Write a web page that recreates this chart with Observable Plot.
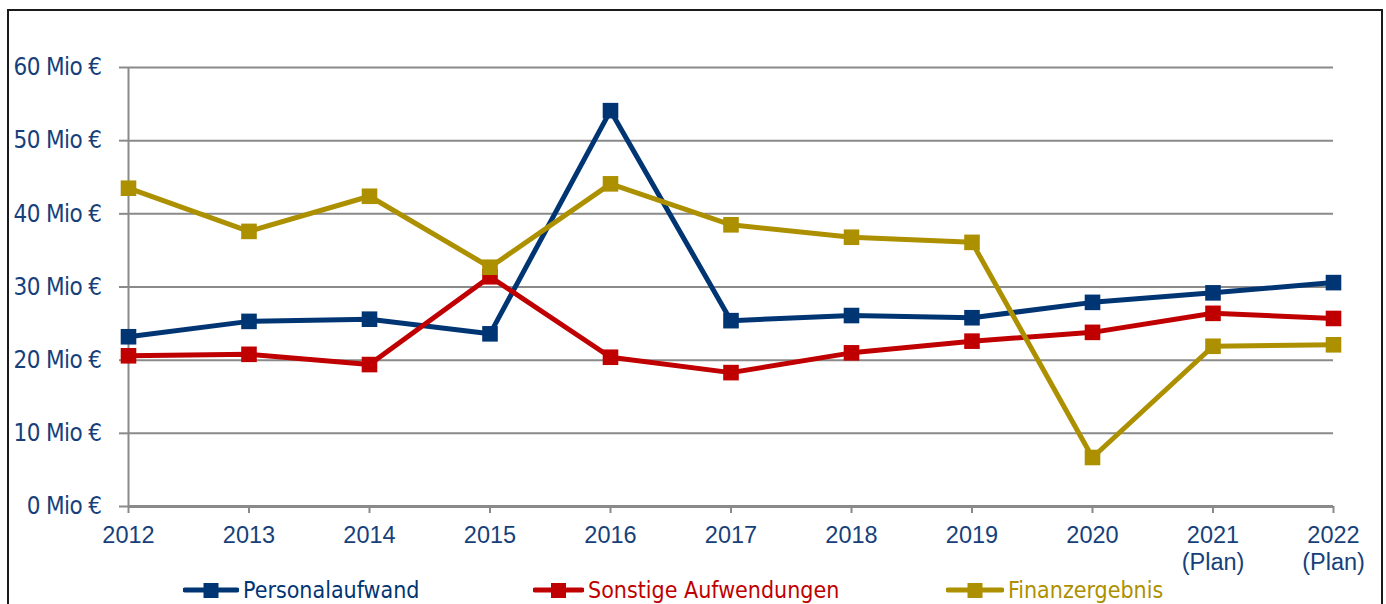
<!DOCTYPE html>
<html>
<head>
<meta charset="utf-8">
<script src="https://cdn.jsdelivr.net/npm/d3@7"></script>
<script src="https://cdn.jsdelivr.net/npm/@observablehq/plot@0.6"></script>
<style>
  html, body { margin: 0; padding: 0; background: #fff; width: 1386px; height: 604px; overflow: hidden; }
  #frame { position: absolute; left: 7px; top: 9px; width: 1372px; height: 700px; border: 2px solid #1a1a1a; border-bottom: none; }
  #chart { position: absolute; left: 0; top: 0; }
  #legend { position: absolute; left: 0; top: 576px; width: 1386px; height: 28px; }
  .item { position: absolute; top: 0; height: 28px; display: flex; align-items: center; font-family: "DejaVu Sans Condensed", "DejaVu Sans", sans-serif; font-stretch: condensed; font-size: 23px; white-space: nowrap; }
  .item svg { margin-right: 4px; }
  g[aria-label="y-axis tick label"] text { letter-spacing: -0.6px; }
</style>
</head>
<body>
<div id="frame"></div>
<div id="chart"></div>
<div id="legend"></div>
<script>
const years = [2012, 2013, 2014, 2015, 2016, 2017, 2018, 2019, 2020, 2021, 2022];
const xLabels = ["2012", "2013", "2014", "2015", "2016", "2017", "2018", "2019", "2020", "2021\n(Plan)", "2022\n(Plan)"];
const yTicks = [0, 10, 20, 30, 40, 50, 60];
const seriesNames = ["Personalaufwand", "Sonstige Aufwendungen", "Finanzergebnis"];
const seriesColors = ["#003574", "#c00000", "#ad9000"];
const personalaufwand = [23.2, 25.3, 25.6, 23.6, 54.1, 25.4, 26.1, 25.8, 27.9, 29.2, 30.6];
const sonstige = [20.6, 20.8, 19.4, 31.4, 20.4, 18.3, 21.0, 22.6, 23.8, 26.4, 25.7];
const finanzergebnis = [43.5, 37.6, 42.4, 32.7, 44.1, 38.5, 36.8, 36.1, 6.7, 21.9, 22.1];

const seriesValues = [personalaufwand, sonstige, finanzergebnis];
const rows = seriesNames.flatMap((s, k) => years.map((y, i) => ({series: s, year: y, value: seriesValues[k][i]})));
const textBlue = "#173f7a";
const gray = "#8a8a8a";

const chart = Plot.plot({
  width: 1386,
  height: 576,
  marginLeft: 128,
  marginRight: 53,
  marginTop: 67,
  marginBottom: 70,
  x: {domain: [2012, 2022]},
  y: {domain: [0, 60]},
  color: {domain: seriesNames, range: seriesColors},
  marks: [
    Plot.ruleY(yTicks.filter(d => d > 0), {x1: 2012, x2: 2022, stroke: gray, strokeWidth: 2}),
    Plot.axisY(yTicks, {
      tickSize: 9, tickPadding: 18, stroke: gray, strokeWidth: 2, fill: textBlue,
      tickFormat: d => `${d} Mio €`,
      fontSize: 24, fontFamily: "'DejaVu Sans Condensed', 'DejaVu Sans', sans-serif", fontStretch: "condensed",
      label: null
    }),
    Plot.axisX(years, {
      tickSize: 7, tickPadding: 10, stroke: gray, strokeWidth: 2, fill: textBlue,
      tickFormat: d => xLabels[years.indexOf(d)],
      fontSize: 23.5, fontFamily: "'Liberation Sans', Arial, sans-serif", lineHeight: 1.15,
      label: null
    }),
    Plot.ruleX([2012], {y1: 0, y2: 60, stroke: gray, strokeWidth: 2}),
    Plot.ruleY([0], {x1: 2012, x2: 2022, stroke: gray, strokeWidth: 3}),
    Plot.line(rows, {x: "year", y: "value", z: "series", stroke: "series", strokeWidth: 5, strokeLinejoin: "miter"}),
    Plot.dot(rows, {x: "year", y: "value", fill: "series", symbol: "square", r: 8.8, stroke: "none"})
  ]
});
document.getElementById("chart").appendChild(chart);

// Legend
const legendPos = [183, 533, 946];
const swatchW = [56, 51, 58];
const legend = document.getElementById("legend");
seriesNames.forEach((name, k) => {
  const w = swatchW[k];
  const item = document.createElement("div");
  item.className = "item";
  item.style.left = legendPos[k] + "px";
  item.style.color = seriesColors[k];
  item.innerHTML = `<svg width="${w}" height="20"><line x1="2" y1="10" x2="${w - 2}" y2="10" stroke="${seriesColors[k]}" stroke-width="5" stroke-linecap="round"/><rect x="${w / 2 - 7.5}" y="3" width="15" height="15" fill="${seriesColors[k]}"/></svg><span>${name}</span>`;
  legend.appendChild(item);
});
</script>
</body>
</html>
